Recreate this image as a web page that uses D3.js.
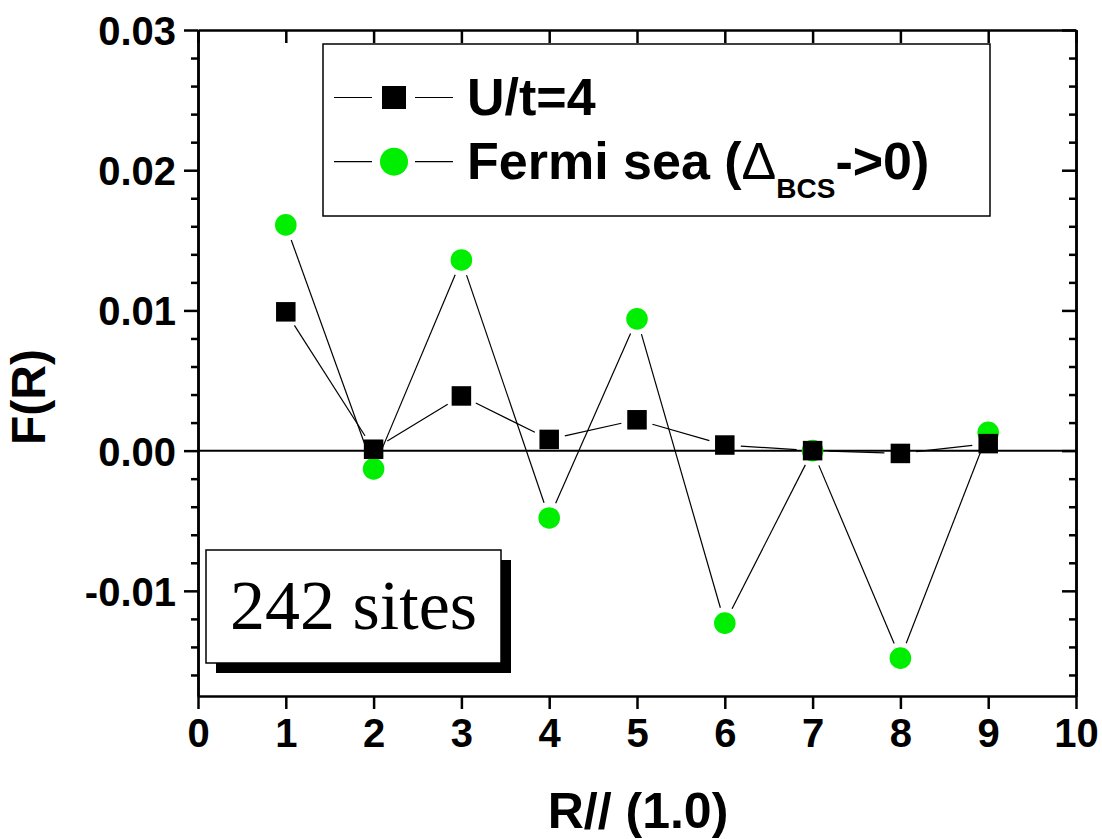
<!DOCTYPE html>
<html>
<head>
<meta charset="utf-8">
<script src="https://cdn.jsdelivr.net/npm/d3@7"></script>
<style>
  html, body { margin: 0; padding: 0; background: #fff; }
  svg { display: block; font-family: "Liberation Sans", Arial, sans-serif; }
</style>
</head>
<body>
<svg id="chart" width="1102" height="839"></svg>
<script>
// ---- data ----
const categories = [1, 2, 3, 4, 5, 6, 7, 8, 9];
const uValues = [0.0099, 0.0001, 0.0039, 0.0008, 0.0022, 0.0004, 0.0000, -0.0002, 0.0005];
const fermiValues = [0.0161, -0.0013, 0.0136, -0.0048, 0.0094, -0.0123, 0.0000, -0.0148, 0.0013];
const xTickValues = [0, 1, 2, 3, 4, 5, 6, 7, 8, 9, 10];
const yTickValues = [-0.01, 0.00, 0.01, 0.02, 0.03];
const yMinorValues = [-0.016, -0.014, -0.012, -0.008, -0.006, -0.004, -0.002, 0.002, 0.004, 0.006, 0.008,
                      0.012, 0.014, 0.016, 0.018, 0.022, 0.024, 0.026, 0.028];
const seriesNames = ["U/t=4", "Fermi sea"];
const xTitle = "R// (1.0)";
const yTitle = "F(R)";
const boxLabel = "242 sites";

// ---- layout ----
const svg = d3.select("#chart");
const L = 198, R = 1076, T = 30, B = 696;
const x = d3.scaleLinear().domain([0, 10]).range([L, R]);
const y = d3.scaleLinear().domain([-0.0175, 0.03]).range([B, T]);

const fmt = v => d3.format(".2f")(v).replace("\u2212", "-");
const SANS = "'Liberation Sans', Arial, sans-serif";
const SERIF = "'Liberation Serif', 'Times New Roman', serif";

// zero line
svg.append("line")
  .attr("x1", L).attr("x2", R).attr("y1", y(0)).attr("y2", y(0))
  .attr("stroke", "#000").attr("stroke-width", 2);

// axes
function styleAxis(g, fs) {
  g.selectAll("path.domain").attr("stroke", "#000").attr("stroke-width", 2.5);
  g.selectAll(".tick line").attr("stroke", "#000").attr("stroke-width", 2.5);
  g.selectAll(".tick text").style("font-size", fs + "px").style("font-weight", "bold")
    .style("font-family", SANS).attr("fill", "#000");
}

// bottom
const gB = svg.append("g").attr("transform", `translate(0,${B})`)
  .call(d3.axisBottom(x).tickValues(xTickValues).tickSize(13).tickSizeOuter(0).tickPadding(10).tickFormat(d3.format("d")));
styleAxis(gB, 40);
// top
const gT = svg.append("g").attr("transform", `translate(0,${T})`)
  .call(d3.axisTop(x).tickValues(xTickValues).tickSize(-13).tickSizeOuter(0).tickFormat(""));
styleAxis(gT, 40);
// left major
const gL = svg.append("g").attr("transform", `translate(${L},0)`)
  .call(d3.axisLeft(y).tickValues(yTickValues).tickSize(14).tickSizeOuter(0).tickPadding(8).tickFormat(fmt));
styleAxis(gL, 40);
gL.selectAll(".tick text").attr("dy", "0.36em");
// left minor
const gLm = svg.append("g").attr("transform", `translate(${L},0)`)
  .call(d3.axisLeft(y).tickValues(yMinorValues).tickSize(7).tickSizeOuter(0).tickFormat(""));
styleAxis(gLm, 40);
// right major & minor (inward)
const gR = svg.append("g").attr("transform", `translate(${R},0)`)
  .call(d3.axisRight(y).tickValues(yTickValues).tickSize(-14).tickSizeOuter(0).tickFormat(""));
styleAxis(gR, 40);
const gRm = svg.append("g").attr("transform", `translate(${R},0)`)
  .call(d3.axisRight(y).tickValues(yMinorValues).tickSize(-7).tickSizeOuter(0).tickFormat(""));
styleAxis(gRm, 40);

// ---- series connecting lines with gaps near markers ----
function gappedSegments(vals, gap) {
  const pts = categories.map((c, i) => [x(c), y(vals[i])]);
  const segs = [];
  for (let i = 0; i < pts.length - 1; i++) {
    const [x1, y1] = pts[i], [x2, y2] = pts[i + 1];
    const dx = x2 - x1, dy = y2 - y1, len = Math.hypot(dx, dy);
    if (len <= 2 * gap) continue;
    const ux = dx / len, uy = dy / len;
    segs.push([x1 + ux * gap, y1 + uy * gap, x2 - ux * gap, y2 - uy * gap]);
  }
  return segs;
}
const lineG = svg.append("g");
[fermiValues, uValues].forEach(vals => {
  lineG.selectAll(null).data(gappedSegments(vals, 16)).enter().append("line")
    .attr("x1", d => d[0]).attr("y1", d => d[1]).attr("x2", d => d[2]).attr("y2", d => d[3])
    .attr("stroke", "#000").attr("stroke-width", 1.2);
});

// markers: green circles first, black squares on top
svg.append("g").selectAll("circle").data(categories).enter().append("circle")
  .attr("cx", (d) => x(d)).attr("cy", (d, i) => y(fermiValues[i])).attr("r", 10.8)
  .attr("fill", "#00ee00");
const sq = 19.5;
svg.append("g").selectAll("rect").data(categories).enter().append("rect")
  .attr("x", d => x(d) - sq / 2).attr("y", (d, i) => y(uValues[i]) - sq / 2)
  .attr("width", sq).attr("height", sq).attr("fill", "#000");

// ---- legend ----
const leg = svg.append("g");
leg.append("rect").attr("x", 323).attr("y", 44).attr("width", 667).attr("height", 172)
  .attr("fill", "#fff").attr("stroke", "#000").attr("stroke-width", 1.5);
const rows = [97.5, 161.7];
rows.forEach((ry) => {
  leg.append("line").attr("x1", 334).attr("x2", 372).attr("y1", ry).attr("y2", ry).attr("stroke", "#000").attr("stroke-width", 1.2);
  leg.append("line").attr("x1", 415).attr("x2", 453).attr("y1", ry).attr("y2", ry).attr("stroke", "#000").attr("stroke-width", 1.2);
});
leg.append("rect").attr("x", 394 - 12).attr("y", rows[0] - 11.5).attr("width", 24).attr("height", 23).attr("fill", "#000");
leg.append("circle").attr("cx", 394).attr("cy", rows[1]).attr("r", 14).attr("fill", "#00ee00");
leg.append("text").attr("x", 467).attr("y", 115).style("font-size", "52px").style("font-weight", "bold")
  .style("font-family", SANS).text(seriesNames[0]);
const t2 = leg.append("text").attr("x", 467).attr("y", 179).style("font-size", "52px").style("font-weight", "bold")
  .style("font-family", SANS);
t2.append("tspan").text(seriesNames[1] + " (");
t2.append("tspan").style("font-weight", "normal").text("\u0394");
t2.append("tspan").style("font-size", "28px").attr("dy", 19).text("BCS");
t2.append("tspan").attr("dy", -19).text("->0)");

// ---- "242 sites" box ----
const bx = 206, by = 550, bw = 295, bh = 113;
svg.append("rect").attr("x", bx + 10).attr("y", by + 10).attr("width", bw).attr("height", bh).attr("fill", "#000");
svg.append("rect").attr("x", bx).attr("y", by).attr("width", bw).attr("height", bh)
  .attr("fill", "#fff").attr("stroke", "#000").attr("stroke-width", 1.5);
svg.append("text").attr("x", bx + bw / 2).attr("y", 629).attr("text-anchor", "middle")
  .style("font-family", SERIF).style("font-size", "70px").style("font-weight", "normal")
  .text(boxLabel);

// ---- axis titles ----
svg.append("text").attr("x", 638).attr("y", 828).attr("text-anchor", "middle")
  .style("font-size", "50px").style("font-weight", "bold").style("font-family", SANS).text(xTitle);
svg.append("text").attr("transform", "translate(45,397) rotate(-90)").attr("text-anchor", "middle")
  .style("font-size", "48px").style("font-weight", "bold").style("font-family", SANS).text(yTitle);
</script>
</body>
</html>
